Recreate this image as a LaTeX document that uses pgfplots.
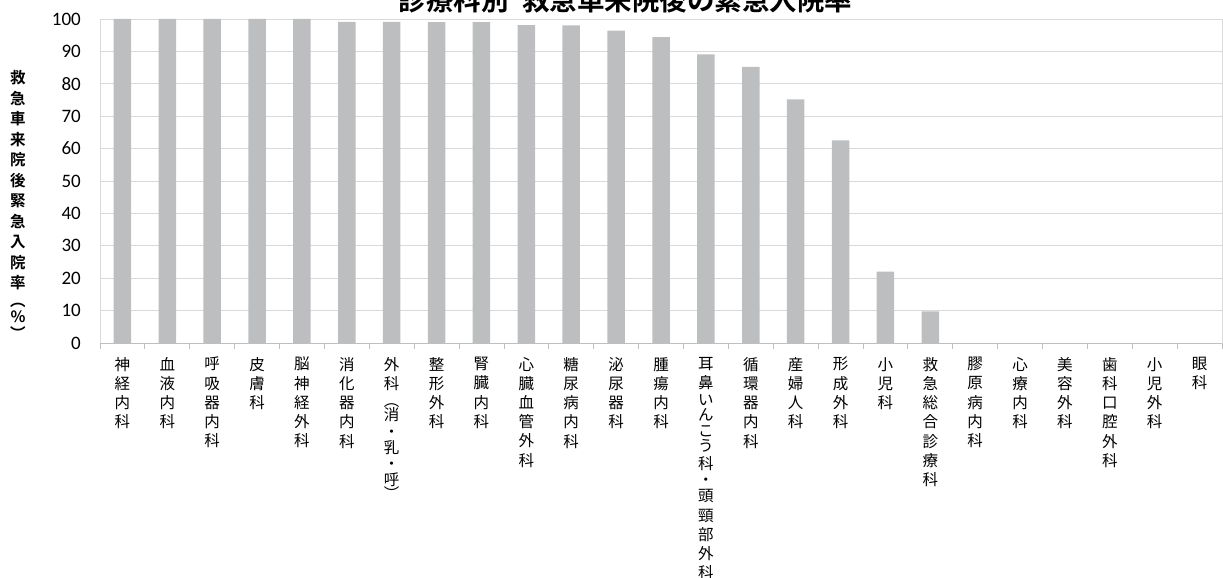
\documentclass[border=0pt]{standalone}
\usepackage{fontspec}
\usepackage{pgfplots}
\pgfplotsset{compat=1.18}
\setmainfont{Carlito}
\newfontfamily\jp{Noto Sans CJK JP}[BoldFont={Noto Sans CJK JP Bold}]

\definecolor{bargray}{RGB}{189,190,192}
\definecolor{gridgray}{RGB}{217,217,217}
\definecolor{axisgray}{RGB}{191,191,191}

\begin{document}
\begin{tikzpicture}
\begin{axis}[
  name=ax,
  width=1122pt, height=324pt, scale only axis,
  xmin=-0.5, xmax=24.5, ymin=0, ymax=100,
  ybar, bar width=17.5pt,
  ytick={0,10,...,100},
  xtick={0,...,24},
  minor xtick={-0.5,0.5,...,24.5},
  xtick pos=bottom, ytick pos=left,
  tick align=outside,
  major tick length=0pt, minor tick length=5.5pt,
  minor tick style={draw=axisgray, line width=0.8pt},
  ymajorgrids,
  major grid style={draw=gridgray, line width=0.8pt},
  axis line style={draw=gridgray, line width=0.8pt},
  /pgf/number format/assume math mode=true,
  yticklabel style={font=\fontsize{19}{19}\selectfont, anchor=east, inner sep=0pt, xshift=-19pt},
  xticklabel style={font=\jp\fontsize{15.5}{19.2}\selectfont, align=center, anchor=north, inner sep=0pt, yshift=-14pt},
  xticklabels={
    {神\\経\\内\\科},
    {血\\液\\内\\科},
    {呼\\吸\\器\\内\\科},
    {皮\\膚\\科},
    {脳\\神\\経\\外\\科},
    {消\\化\\器\\内\\科},
    {外\\科\\[-2pt]︵\\[-5pt]消\\[-3pt]・\\[-3pt]乳\\[-3pt]・\\[-3pt]呼\\[-5pt]︶},
    {整\\形\\外\\科},
    {腎\\臓\\内\\科},
    {心\\臓\\血\\管\\外\\科},
    {糖\\尿\\病\\内\\科},
    {泌\\尿\\器\\科},
    {腫\\瘍\\内\\科},
    {耳\\鼻\\[-2pt]い\\[-4pt]ん\\[-4pt]こ\\[-4pt]う\\[-1pt]科\\[-3pt]・\\[-3pt]頭\\頸\\部\\外\\科},
    {循\\環\\器\\内\\科},
    {産\\婦\\人\\科},
    {形\\成\\外\\科},
    {小\\児\\科},
    {救\\急\\総\\合\\診\\療\\科},
    {膠\\原\\病\\内\\科},
    {心\\療\\内\\科},
    {美\\容\\外\\科},
    {歯\\科\\口\\腔\\外\\科},
    {小\\児\\外\\科},
    {眼\\科}
  },
]
% emergency admission rate after ambulance arrival, by department
\addplot[fill=bargray, draw=none] table[x=idx, y=rate] {
idx rate
0  100
1  100
2  100
3  100
4  100
5  99.1
6  99.1
7  99.0
8  99.0
9  98.1
10 98.0
11 96.4
12 94.4
13 89.1
14 85.2
15 75.2
16 62.5
17 22.0
18 9.8
19 0
20 0
21 0
22 0
23 0
24 0
};
\draw[axisgray, line width=0.8pt] (rel axis cs:0,0) -- (rel axis cs:1,0);
\end{axis}

% vertical axis title
\node[font=\jp\bfseries\fontsize{15.5}{20.5}\selectfont, align=center, anchor=center]
  at ([shift={(-82pt,-24pt)}]ax.west)
  {救\\急\\車\\来\\院\\後\\緊\\急\\入\\院\\率\\[-3pt]︵\\[-4pt]\%\\[-4pt]︶};

% chart title
\node[font=\jp\bfseries\fontsize{27.5}{27.5}\selectfont, anchor=base]
  at ([shift={(525.5pt,8pt)}]ax.north west)
  {診療科別\hspace{0.5em}救急車来院後の緊急入院率};

\pgfresetboundingbox
\path[use as bounding box] ([shift={(-100pt,-234pt)}]ax.south west) rectangle ([shift={(1pt,19pt)}]ax.north east);
\end{tikzpicture}
\end{document}
